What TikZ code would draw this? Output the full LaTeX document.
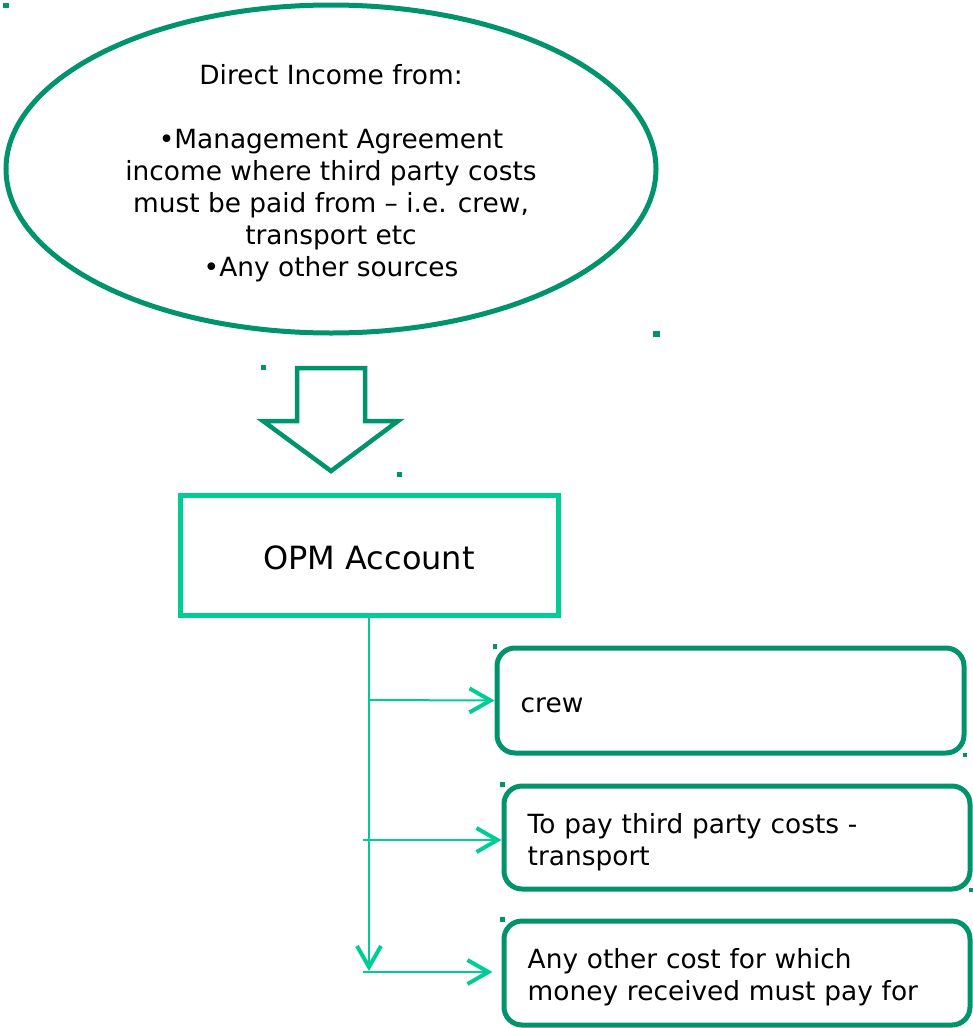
\documentclass[tikz,border=0pt]{standalone}
\usepackage{fontspec}
\setmainfont{DejaVu Sans}
\usetikzlibrary{shapes.geometric,arrows.meta}
\definecolor{dkgreen}{HTML}{00936C}
\definecolor{mint}{HTML}{00CC96}
\tikzset{
  txt/.style={font=\fontsize{26.4}{32}\selectfont, inner sep=0pt},
  costbox/.style={draw=dkgreen, line width=5pt, rounded corners=18pt, inner sep=0pt},
  costtext/.style={txt, anchor=west, align=left, text width=418pt},
  conn/.style={draw=mint, line width=2pt,
    -{Straight Barb[length=21pt,width=24pt,line width=4pt]}},
  marker/.style={fill=dkgreen}
}
\begin{document}
\begin{tikzpicture}[x=1pt,y=-1pt]
\useasboundingbox (0,0) rectangle (973,1028);

% income source
\node[ellipse, draw=dkgreen, line width=5pt, minimum width=650pt,
      minimum height=328pt, inner sep=0pt] (src) at (331,169) {};
\node[txt, align=center] (srctext) at (331,173)
  {Direct Income from:\\ \mbox{}\\ •Management Agreement\\ income where third party costs\\
   must be paid from – i.e. crew,\\ transport etc\\ •Any other sources};

% block arrow into the account
\draw[dkgreen, line width=4.5pt, line join=miter]
  (297,368) -- (365,368) -- (365,421) -- (398,421) -- (331,471)
  -- (263,421) -- (297,421) -- cycle;

% account
\node[draw=mint, line width=5pt, minimum width=378pt, minimum height=120pt,
      inner sep=0pt] (opm) at (369,555) {};
\node[inner sep=0pt, font=\fontsize{32}{38}\selectfont] (opmtext) at (369,558) {OPM Account};

% outgoing costs
\node[costbox, minimum width=467pt, minimum height=105pt] (crew) at (730.5,700.5) {};
\node[costtext] (crewtext) at ([xshift=26pt,yshift=-5pt]crew.west) {crew};
\node[costbox, minimum width=466pt, minimum height=103pt] (transport) at (737,837.5) {};
\node[costtext] (transporttext) at ([xshift=26pt,yshift=-5pt]transport.west)
  {To pay third party costs -\\transport};
\node[costbox, minimum width=466pt, minimum height=104pt] (other) at (737,973) {};
\node[costtext] (othertext) at ([xshift=26pt,yshift=-4pt]other.west)
  {Any other cost for which\\money received must pay for};

% connectors
\coordinate (vend) at (369,971);
\coordinate (h1) at (369,700);
\coordinate (h2) at (363,840);
\coordinate (h3) at (363,972);
\draw[conn] (opm.south) -- (vend);
\draw[conn] (h1) -- (crew.west);
\draw[conn] (h2) -- (h2 -| transport.west);
\draw[conn, shorten >=9pt] (h3) -- (h3 -| other.west);

% corner markers
\fill[marker] (3,3) rectangle (9,8);
\fill[marker] (261,365) rectangle (266,370);
\fill[marker] (397,472) rectangle (402,477);
\fill[marker] (653,331) rectangle (660,337);
\fill[marker] (493,644) rectangle (497,649);
\fill[marker] (963,753) rectangle (967,757);
\fill[marker] (500,782) rectangle (505,787);
\fill[marker] (969,888) rectangle (973,892);
\fill[marker] (500,917) rectangle (505,922);
\end{tikzpicture}
\end{document}
